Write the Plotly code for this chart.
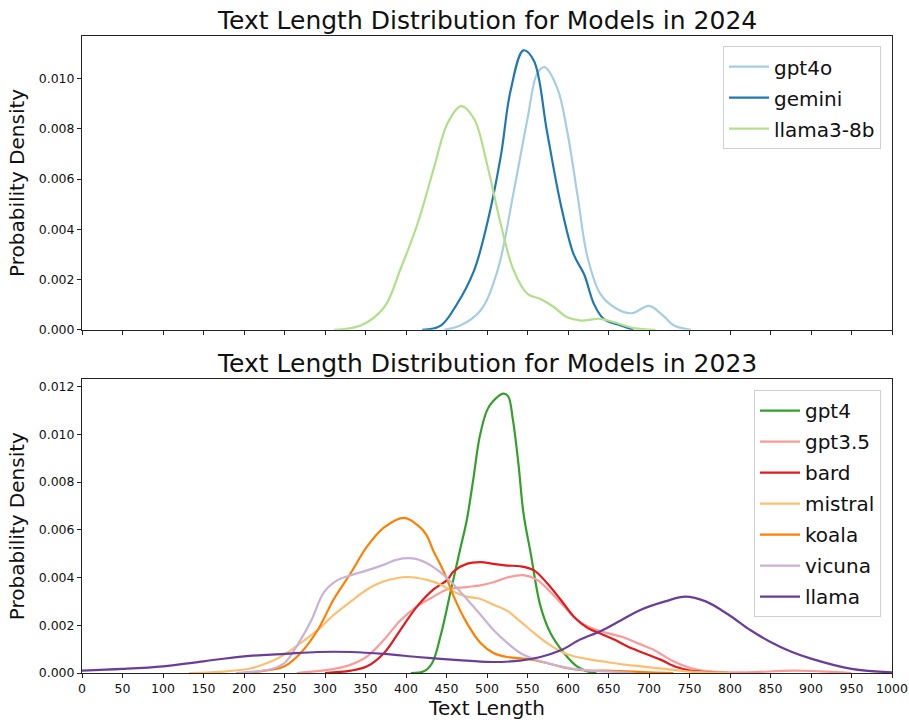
import plotly.graph_objects as go

# ---------------- data ----------------
# 2024 models
gpt4o_x = [447, 467, 492, 513, 533, 550, 562, 571, 587, 599, 612, 624, 640, 657, 678, 700, 715, 731, 752]
gpt4o_y = [0, 0.00017, 0.00077, 0.00236, 0.0055, 0.0084, 0.0102, 0.01045, 0.0096, 0.0079, 0.0053, 0.0029,
           0.00143, 0.0009, 0.00066, 0.00095, 0.00064, 0.00017, 0]

gemini_x = [420, 443, 463, 484, 500, 517, 529, 545, 558, 574, 591, 607, 620, 632, 644, 665, 681]
gemini_y = [0, 0.00017, 0.00103, 0.00236, 0.0042, 0.0069, 0.0095, 0.01112, 0.0107, 0.0079, 0.005, 0.003,
            0.0022, 0.00103, 0.00044, 0.00017, 0]

llama38b_x = [311, 344, 373, 393, 414, 435, 451, 468, 484, 500, 517, 533, 550, 566, 583, 599, 616, 640, 657, 681, 708]
llama38b_y = [0, 0.00017, 0.0009, 0.0024, 0.0042, 0.0065, 0.0082, 0.0089, 0.0084, 0.0066, 0.0042, 0.00236,
              0.00143, 0.00123, 0.0009, 0.0005, 0.00037, 0.00044, 0.0003, 0.00007, 0]

# 2023 models
gpt4_x = [406, 422, 432, 443, 455, 467, 475, 483, 491, 500, 508, 520, 526, 532, 539, 545, 554, 566, 578, 595, 611, 624, 635]
gpt4_y = [0, 0.00007, 0.0004, 0.0016, 0.0034, 0.0052, 0.0064, 0.0081, 0.0099, 0.011, 0.0114, 0.0117, 0.0116,
          0.0106, 0.0087, 0.0067, 0.005, 0.0028, 0.0017, 0.00084, 0.00028, 0.00007, 0]

gpt35_x = [265, 311, 332, 352, 373, 393, 414, 434, 451, 475, 492, 508, 525, 545, 562, 578, 595, 611, 628, 648,
           668, 688, 705, 730, 751, 775, 820, 880, 950]
gpt35_y = [0, 0.00017, 0.00035, 0.0007, 0.0014, 0.0022, 0.0028, 0.0032, 0.0035, 0.0036, 0.00367, 0.0038, 0.004,
           0.0041, 0.0039, 0.0034, 0.0028, 0.00223, 0.00189, 0.00168, 0.0015, 0.00122, 0.00098, 0.00049, 0.00021,
           0.00007, 0.00003, 0.0001, 0]

bard_x = [300, 332, 352, 373, 393, 414, 434, 451, 459, 475, 492, 508, 525, 541, 558, 574, 591, 607, 624, 640,
          657, 673, 690, 714, 734, 751, 775, 800]
bard_y = [0, 0.0001, 0.00028, 0.00084, 0.0018, 0.0028, 0.0035, 0.0039, 0.00426, 0.00457, 0.00464, 0.00457,
          0.0045, 0.00447, 0.0043, 0.00377, 0.00307, 0.00237, 0.00189, 0.00165, 0.0014, 0.00112, 0.00088,
          0.00056, 0.00025, 0.0001, 0.00003, 0]

mistral_x = [132, 170, 209, 234, 250, 270, 291, 311, 332, 352, 373, 402, 426, 443, 459, 475, 492, 508, 525,
             541, 558, 574, 591, 607, 628, 648, 669, 690, 720, 750, 800]
mistral_y = [0, 0.00005, 0.0002, 0.00049, 0.00077, 0.00126, 0.0018, 0.00244, 0.003, 0.0035, 0.00384, 0.00402,
             0.0039, 0.0037, 0.0034, 0.0032, 0.0031, 0.00286, 0.0026, 0.00216, 0.00168, 0.00126, 0.0009, 0.0007,
             0.00056, 0.00046, 0.00035, 0.00028, 0.00017, 0.00006, 0]

koala_x = [200, 234, 250, 270, 291, 311, 332, 352, 373, 398, 414, 425, 434, 443, 451, 459, 475, 492, 508, 525,
           550, 574, 599, 624, 648, 673, 700, 730]
koala_y = [0, 0.00014, 0.00028, 0.00084, 0.0018, 0.0031, 0.0042, 0.0053, 0.0061, 0.0065, 0.0062, 0.0058, 0.0051,
           0.0045, 0.0039, 0.0032, 0.0021, 0.00126, 0.00084, 0.00067, 0.00059, 0.00042, 0.0002, 0.0001, 0.0001,
           0.00007, 0.00003, 0]

vicuna_x = [190, 234, 250, 270, 283, 299, 316, 332, 352, 373, 389, 408, 426, 443, 459, 475, 492, 508, 525, 541,
            558, 574, 591, 607, 628, 648, 680]
vicuna_y = [0, 0.00017, 0.00042, 0.0014, 0.0022, 0.0034, 0.0039, 0.0041, 0.0043, 0.00454, 0.00475, 0.0048,
            0.0046, 0.0042, 0.0037, 0.0031, 0.00244, 0.0018, 0.00126, 0.00084, 0.00059, 0.00042, 0.00028,
            0.00017, 0.0001, 0.00007, 0]

llama_x = [0, 50, 100, 150, 200, 250, 291, 332, 373, 414, 443, 475, 508, 541, 566, 591, 615, 640, 665, 690,
           720, 745, 770, 800, 825, 850, 875, 900, 950, 1000]
llama_y = [0.0001, 0.00017, 0.00028, 0.00049, 0.0007, 0.0008, 0.00088, 0.00088, 0.0008, 0.00067, 0.00059,
           0.00052, 0.00046, 0.00052, 0.00067, 0.00095, 0.0014, 0.00175, 0.0022, 0.00265, 0.003, 0.0032,
           0.003, 0.0024, 0.0018, 0.0013, 0.0009, 0.0006, 0.00017, 0.00003]

top_series = [
    ("gpt4o", gpt4o_x, gpt4o_y, "#a6cee3"),
    ("gemini", gemini_x, gemini_y, "#1f78b4"),
    ("llama3-8b", llama38b_x, llama38b_y, "#b2df8a"),
]
bottom_series = [
    ("gpt4", gpt4_x, gpt4_y, "#33a02c"),
    ("gpt3.5", gpt35_x, gpt35_y, "#fb9a99"),
    ("bard", bard_x, bard_y, "#e31a1c"),
    ("mistral", mistral_x, mistral_y, "#fdbf6f"),
    ("koala", koala_x, koala_y, "#ff7f00"),
    ("vicuna", vicuna_x, vicuna_y, "#cab2d6"),
    ("llama", llama_x, llama_y, "#6a3d9a"),
]

x_ticks = list(range(0, 1001, 50))
top_y_ticks = [0, 0.002, 0.004, 0.006, 0.008, 0.010]
bottom_y_ticks = [0, 0.002, 0.004, 0.006, 0.008, 0.010, 0.012]

title_top = "Text Length Distribution for Models in 2024"
title_bottom = "Text Length Distribution for Models in 2023"

# ---------------- figure ----------------
FONT = "DejaVu Sans"
fig = go.Figure()

for name, xs, ys, col in top_series:
    fig.add_trace(go.Scatter(x=xs, y=ys, name=name, mode="lines",
                             line=dict(color=col, width=2.2, shape="spline", smoothing=1.0),
                             xaxis="x", yaxis="y", legend="legend", legendgroup=name))
for name, xs, ys, col in bottom_series:
    fig.add_trace(go.Scatter(x=xs, y=ys, name=name, mode="lines",
                             line=dict(color=col, width=2.2, shape="spline", smoothing=1.0),
                             xaxis="x2", yaxis="y2", legend="legend2", legendgroup=name))

axis_common = dict(showline=True, linecolor="#222", linewidth=1, mirror=True, ticks="outside",
                   ticklen=4, tickcolor="#222", showgrid=False, zeroline=False,
                   tickfont=dict(family=FONT, size=12.5, color="#111"), automargin=False)

fig.update_layout(
    width=909, height=722,
    margin=dict(l=82, r=17, t=36, b=49),
    paper_bgcolor="white", plot_bgcolor="white",
    font=dict(family=FONT, color="#111"),
    xaxis=dict(domain=[0, 1], anchor="y", range=[0, 1000], tickvals=x_ticks,
               showticklabels=False, matches="x2", **axis_common),
    yaxis=dict(domain=[0.5387, 1], anchor="x", range=[0, 0.01169], tickvals=top_y_ticks,
               tickformat=".3f",
               title=dict(text="Probability Density", font=dict(family=FONT, size=20), standoff=8),
               **axis_common),
    xaxis2=dict(domain=[0, 1], anchor="y2", range=[0, 1000], tickvals=x_ticks,
                title=dict(text="Text Length", font=dict(family=FONT, size=20), standoff=4),
                **axis_common),
    yaxis2=dict(domain=[0, 0.461], anchor="x2", range=[0, 0.0123], tickvals=bottom_y_ticks,
                tickformat=".3f",
                title=dict(text="Probability Density", font=dict(family=FONT, size=20), standoff=8),
                **axis_common),
    legend=dict(x=0.9864, y=0.984, xanchor="right", yanchor="top",
                bgcolor="rgba(255,255,255,0.8)", bordercolor="#d0d0d0", borderwidth=1,
                font=dict(family=FONT, size=20), tracegroupgap=2, itemwidth=40),
    legend2=dict(x=0.9864, y=0.444, xanchor="right", yanchor="top",
                 bgcolor="rgba(255,255,255,0.8)", bordercolor="#d0d0d0", borderwidth=1,
                 font=dict(family=FONT, size=20), tracegroupgap=2, itemwidth=40),
    showlegend=True,
    annotations=[
        dict(text=title_top, xref="paper", yref="paper", x=0.5, y=1.0, xanchor="center",
             yanchor="bottom", showarrow=False, font=dict(family=FONT, size=25, color="#111"), yshift=-1),
        dict(text=title_bottom, xref="paper", yref="paper", x=0.5, y=0.461, xanchor="center",
             yanchor="bottom", showarrow=False, font=dict(family=FONT, size=25, color="#111"), yshift=-1),
    ],
)

fig.write_html("out.html", config={"displayModeBar": False},
               post_script="document.body.style.margin='0px';")
